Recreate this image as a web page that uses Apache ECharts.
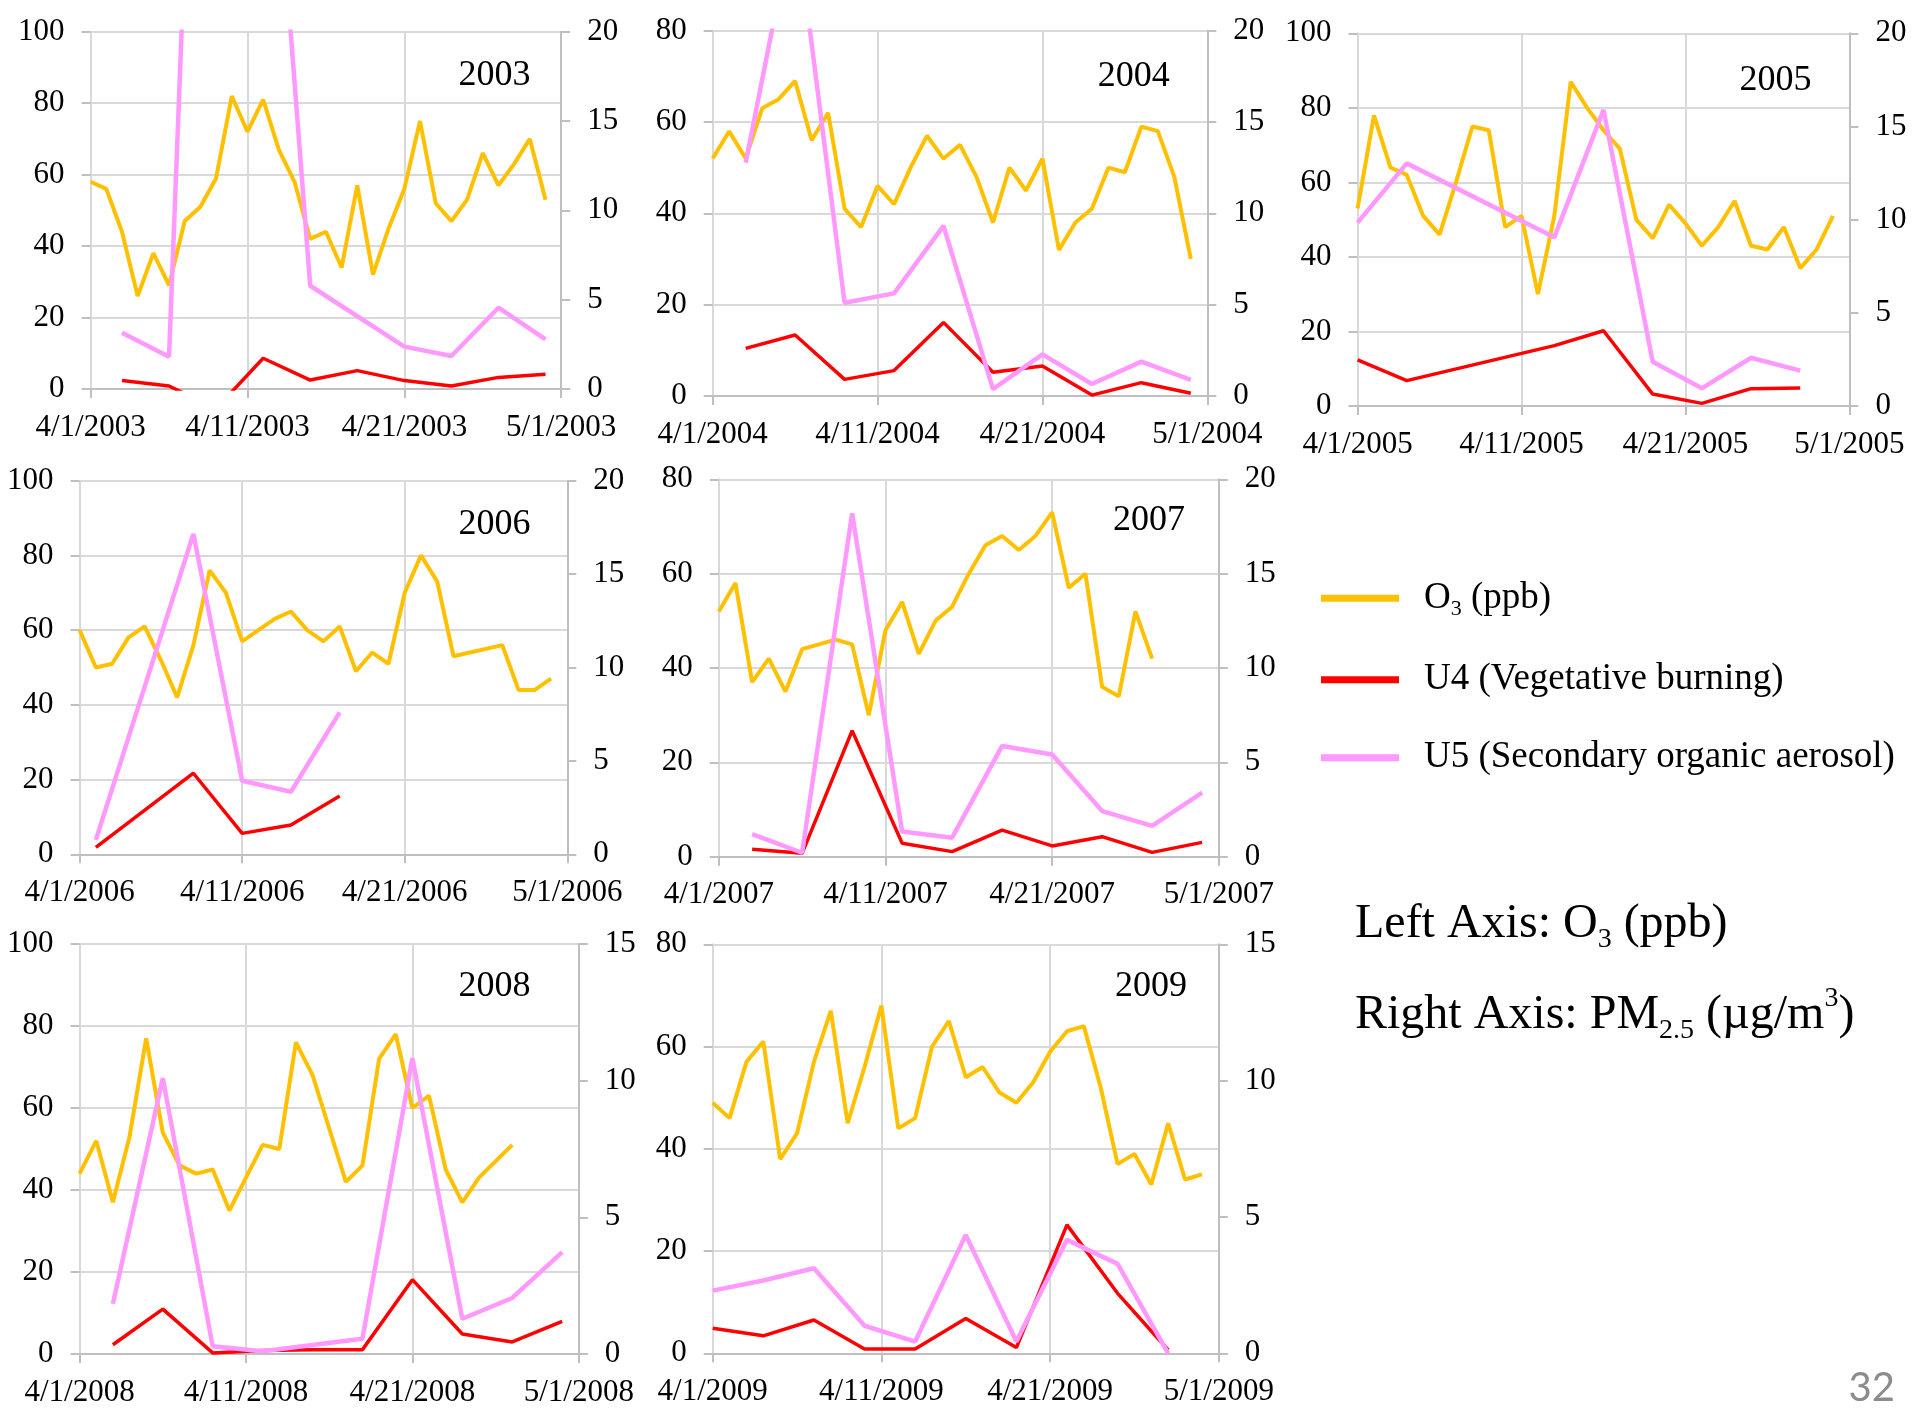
<!DOCTYPE html>
<html><head><meta charset="utf-8">
<script src="https://cdn.jsdelivr.net/npm/echarts@6/dist/echarts.min.js"></script>
<style>html,body{margin:0;padding:0;background:#fff}#c{width:1917px;height:1408px}</style>
</head><body><div id="c"></div>
<script>
// ---- data ----
const xTickLabels = ['4/1', '4/11', '4/21', '5/1'];

const o3_2003 = [58,56,44,26,38,29,47,51,59,82,72,81,67,58,42,44,34,57,32,45,56,75,52,47,53,66,57,63,70,53];
const uDays_2003 = [2,5,8,11,14,17,20,23,26,29];
const u4_2003 = [0.47,0.17,-1.1,1.72,0.5,1.03,0.47,0.17,0.65,0.82];
const u5_2003 = [3.15,1.81,70,40,5.78,null,2.37,1.85,4.55,2.78];

const o3_2004 = [52,58,52,63,65,69,56,62,41,37,46,42,50,57,52,55,48,38,50,45,52,32,38,41,50,49,59,58,48,30];
const uDays_2004 = [2,5,8,11,14,17,20,23,26,29];
const u4_2004 = [2.61,3.34,0.91,1.39,4.03,1.30,1.64,0.05,0.73,0.15];
const u5_2004 = [12.77,26.4,5.11,5.62,9.31,0.38,2.28,0.66,1.88,0.88];

const o3_2005 = [53,78,64,62,51,46,60,75,74,48,51,30,51,87,80,74,69,50,45,54,49,43,48,55,43,42,48,37,42,51];
const uDays_2005 = [0,3,12,15,18,21,24,27];
const u4_2005 = [2.47,1.36,3.24,4.04,0.64,0.14,0.93,0.97];
const u5_2005 = [9.84,13.02,9.05,15.89,2.38,0.95,2.59,1.90];

const o3_2006 = [60,50,51,58,61,52,42,56,76,70,57,60,63,65,60,57,61,49,54,51,70,80,73,53,null,null,56,44,44,47];
const uDays_2006 = [1,7,10,13,16];
const u4_2006 = [0.37,4.34,1.12,1.57,3.12];
const u5_2006 = [0.77,17.15,3.94,3.35,7.6];

const o3_2007 = [52,58,37,42,35,44,45,46,45,30,48,54,43,50,53,60,66,68,65,68,73,57,60,36,34,52,42];
const uDays_2007 = [2,5,8,11,14,17,20,23,26,29];
const u4_2007 = [0.39,0.18,6.68,0.71,0.27,1.41,0.57,1.06,0.23,0.76];
const u5_2007 = [1.20,0.21,18.2,1.33,1.01,5.87,5.42,2.42,1.63,3.39];

const o3_2008 = [44,52,37,53,77,54,46,44,45,35,43,51,50,76,68,55,42,46,72,78,60,63,45,37,43,null,51];
const uDays_2008 = [2,5,8,11,14,17,20,23,26,29];
const u4_2008 = [0.34,1.64,0.04,0.13,0.16,0.16,2.72,0.73,0.44,1.19];
const u5_2008 = [1.84,10.09,0.28,0.10,null,0.56,10.82,1.29,2.05,3.73];

const o3_2009 = [49,46,57,61,38,43,57,67,45,56,68,44,46,60,65,54,56,51,49,53,59,63,64,52,37,39,33,45,34,35];
const uDays_2009 = [0,3,6,9,12,15,18,21,24,27];
const u4_2009 = [0.92,0.64,1.22,0.16,0.16,1.28,0.21,4.71,2.2,0.12];
const u5_2009 = [2.30,2.67,3.12,1.01,0.43,4.34,0.43,4.16,3.28,0];

// ---- panel definitions (data refs + axis ranges) ----
const panels = [
  {year:2003, o3:o3_2003, uDays:uDays_2003, u4:u4_2003, u5:u5_2003, leftMax:100, rightMax:20},
  {year:2004, o3:o3_2004, uDays:uDays_2004, u4:u4_2004, u5:u5_2004, leftMax:80,  rightMax:20},
  {year:2005, o3:o3_2005, uDays:uDays_2005, u4:u4_2005, u5:u5_2005, leftMax:100, rightMax:20},
  {year:2006, o3:o3_2006, uDays:uDays_2006, u4:u4_2006, u5:u5_2006, leftMax:100, rightMax:20},
  {year:2007, o3:o3_2007, uDays:uDays_2007, u4:u4_2007, u5:u5_2007, leftMax:80,  rightMax:20},
  {year:2008, o3:o3_2008, uDays:uDays_2008, u4:u4_2008, u5:u5_2008, leftMax:100, rightMax:15},
  {year:2009, o3:o3_2009, uDays:uDays_2009, u4:u4_2009, u5:u5_2009, leftMax:80,  rightMax:15}
];

// ---- layout (pixels) ----
const rects = [
  [90.6, 31.7, 470.6, 357.3],
  [712.7, 30.7, 494.6, 365.3],
  [1357.6, 33.3, 491.8, 372.7],
  [79.6, 480.7, 487.7, 373.6],
  [718.8, 479.3, 500, 377.4],
  [79.6, 944, 499.2, 410.3],
  [712.7, 944.3, 506.1, 409]
];
const yearPos = [[530.6,76],[1169.8,77],[1811.4,80.3],[530.6,524.3],[1184.9,520.3],[530.6,986.7],[1186.9,986.7]];

const FONT = '"Liberation Serif", "Times New Roman", serif';
const GRID_C = '#D9D9D9', AXIS_C = '#BFBFBF';
const C_O3 = '#FFC000', C_U4 = '#FF0000', C_U5 = '#FF99FF';

const grid = [], xAxis = [], yAxis = [], series = [], graphic = [];
const pairs = (days, vals) => days.map((d, i) => [d, vals[i]]).filter(p => p[1] !== null);

panels.forEach((p, i) => {
  const r = rects[i];
  grid.push({left: r[0], top: r[1], width: r[2], height: r[3], containLabel: false});
  xAxis.push({
    type: 'value', gridIndex: i, min: 0, max: 30, interval: 10,
    axisLine: {show: true, onZero: false, lineStyle: {color: AXIS_C, width: 2}},
    axisTick: {show: true, length: 9, lineStyle: {color: AXIS_C, width: 2}},
    splitLine: {show: true, lineStyle: {color: GRID_C, width: 2}},
    axisLabel: {margin: 23, color: '#000', fontFamily: FONT, fontSize: 31,
      formatter: v => xTickLabels[Math.round(v / 10)] + '/' + p.year}
  });
  yAxis.push({
    type: 'value', gridIndex: i, position: 'left', min: 0, max: p.leftMax, interval: 20,
    axisLine: {show: true, lineStyle: {color: GRID_C, width: 2}},
    axisTick: {show: true, length: 9, lineStyle: {color: AXIS_C, width: 2}},
    splitLine: {show: true, lineStyle: {color: GRID_C, width: 2}},
    axisLabel: {margin: 26, color: '#000', fontFamily: FONT, fontSize: 31}
  });
  yAxis.push({
    type: 'value', gridIndex: i, position: 'right', min: 0, max: p.rightMax, interval: 5,
    axisLine: {show: true, lineStyle: {color: AXIS_C, width: 2}},
    axisTick: {show: true, length: 9, lineStyle: {color: AXIS_C, width: 2}},
    splitLine: {show: false},
    axisLabel: {margin: 26, color: '#000', fontFamily: FONT, fontSize: 31}
  });
  const o3Days = p.o3.map((_, d) => d);
  series.push({
    name: 'O3', type: 'line', xAxisIndex: i, yAxisIndex: 2 * i,
    data: pairs(o3Days, p.o3), showSymbol: false, symbol: 'none', clip: true,
    lineStyle: {color: C_O3, width: 4}, itemStyle: {color: C_O3}
  });
  series.push({
    name: 'U4', type: 'line', xAxisIndex: i, yAxisIndex: 2 * i + 1,
    data: pairs(p.uDays, p.u4), showSymbol: false, symbol: 'none', clip: true,
    lineStyle: {color: C_U4, width: 3.5}, itemStyle: {color: C_U4}
  });
  series.push({
    name: 'U5', type: 'line', xAxisIndex: i, yAxisIndex: 2 * i + 1,
    data: pairs(p.uDays, p.u5), showSymbol: false, symbol: 'none', clip: true,
    lineStyle: {color: C_U5, width: 4.5}, itemStyle: {color: C_U5}
  });
  graphic.push({
    type: 'text', silent: true,
    style: {text: String(p.year), x: yearPos[i][0], y: yearPos[i][1],
      font: '36px ' + FONT, fill: '#000', align: 'right', verticalAlign: 'middle'}
  });
});

graphic.push({
  type: 'text', left: 1355, top: 900, silent: true,
  style: {
    text: '{m|Left Axis: O}{s|3}{m| (ppb)}',
    rich: {
      m: {fontFamily: FONT, fontSize: 48, lineHeight: 60, fill: '#000'},
      s: {fontFamily: FONT, fontSize: 28, lineHeight: 24, verticalAlign: 'bottom', fill: '#000'}
    }
  }
});
graphic.push({
  type: 'text', left: 1355, top: 985, silent: true,
  style: {
    text: '{m|Right Axis: PM}{s|2.5}{m| (µg/m}{p|3}{m|)}',
    rich: {
      m: {fontFamily: FONT, fontSize: 48, lineHeight: 60, fill: '#000'},
      s: {fontFamily: FONT, fontSize: 28, lineHeight: 24, verticalAlign: 'bottom', fill: '#000'},
      p: {fontFamily: FONT, fontSize: 28, lineHeight: 40, verticalAlign: 'top', fill: '#000'}
    }
  }
});
graphic.push({
  type: 'text', silent: true,
  style: {text: '32', x: 1895, y: 1388, font: '40px Lato, "Open Sans", sans-serif',
    fill: '#8C8C8C', align: 'right', verticalAlign: 'middle'}
});

const legendText = {
  O3: '{m|O}{s|3}{m| (ppb)}',
  U4: '{m|U4 (Vegetative burning)}',
  U5: '{m|U5 (Secondary organic aerosol)}'
};

const chart = echarts.init(document.getElementById('c'), null, {renderer: 'canvas'});
chart.setOption({
  animation: false,
  backgroundColor: '#fff',
  grid, xAxis, yAxis, series, graphic,
  legend: {
    orient: 'vertical', left: 1316, top: 574.7,
    itemWidth: 78, itemHeight: 7, itemGap: 41, icon: 'rect',
    data: ['O3', 'U4', 'U5'],
    selectedMode: false,
    formatter: n => legendText[n],
    textStyle: {
      fontFamily: FONT, fontSize: 37, color: '#000', padding: [0, 0, 0, 20],
      rich: {
        m: {fontFamily: FONT, fontSize: 37, lineHeight: 44, color: '#000'},
        s: {fontFamily: FONT, fontSize: 22, lineHeight: 28, verticalAlign: 'bottom', color: '#000'}
      }
    }
  }
});
</script>
</body></html>
